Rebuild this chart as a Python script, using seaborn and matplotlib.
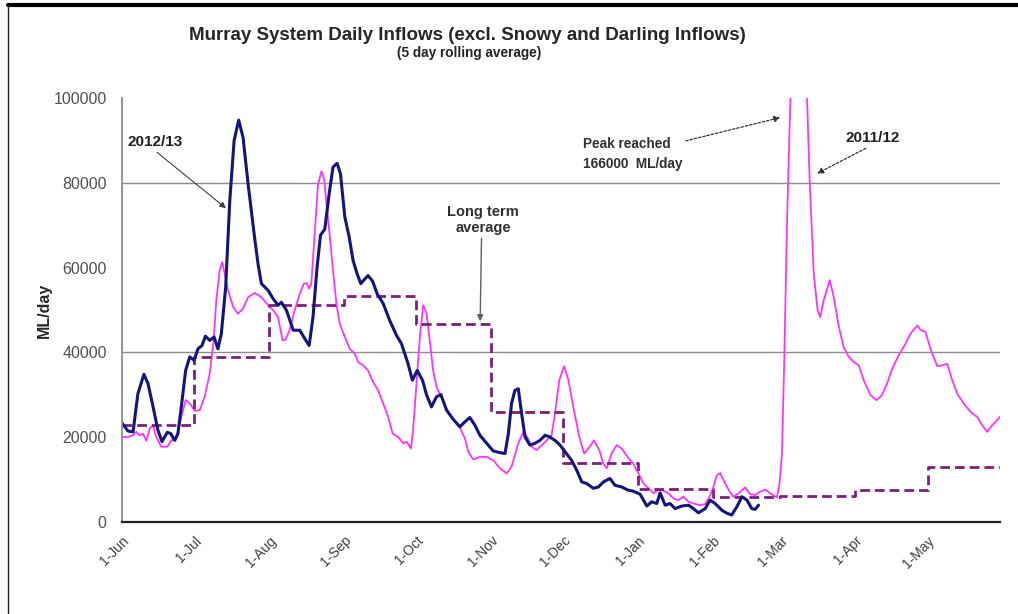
import numpy as np
import pandas as pd
import matplotlib
matplotlib.use('Agg')
import matplotlib.pyplot as plt
import matplotlib.dates as mdates
from matplotlib.lines import Line2D
import seaborn as sns

# Day offsets from 1-Jun, inflows in thousand ML/day
days_1213 = [0, 2.5, 4.6, 6.6, 9.1, 10.8, 12.9, 14.9, 16.6, 18.8, 20.2, 21.9, 23.2, 24.6, 26.4, 28.1,
             29.9, 31.5, 33.2, 34.6, 36.4, 38.2, 39.8, 41.2, 43, 44.7, 46.5, 48.4, 50.2, 52.3, 54.8,
             56.4, 57.8, 60.6, 62.7, 64.7, 66.1, 68.2, 71, 73.7, 75.8, 77.6, 79.2, 80.9, 82.3, 84.1,
             85.9, 87.5, 89.2, 90.6, 92.4, 94.2, 95.8, 97.5, 99, 100.7, 102, 103.9, 105.8, 108.3, 111,
             113.8, 115.9, 118.6, 120.4, 122.4, 124.6, 126.3, 128.3, 130.4, 132.2, 134.6, 137.3, 140.1,
             142.2, 144.2, 146.3, 148.4, 151.2, 153.9, 156.7, 158.8, 160.2, 161.5, 162.9, 164.3, 165.7,
             167.1, 169.1, 171.2, 173.3, 175.4, 177.4, 179.5, 181.6, 183.7, 186.4, 188.5, 190.6, 192.7,
             195.4, 197.5, 199.6, 202.3, 204.4, 207.2, 209.6, 212, 214.8, 217.6, 219.6, 221.7, 223.1,
             225.2, 227.2, 229.3, 232.1, 234.9, 236.9, 239, 241.8, 243.8, 245.9, 248.7, 250.8, 252.8,
             254.9, 257, 259.1, 261.1, 262.5, 263.9]
flow_1213 = [23.3, 21.4, 21.2, 30.2, 34.8, 32.6, 27.1, 21.6, 18.9, 21.1, 20.8, 19.2, 20.8, 27.1, 35.7, 38.9,
             38.1, 40.8, 41.6, 43.8, 42.8, 43.6, 40.8, 44.4, 55.4, 75.8, 90, 94.8, 90.7, 79.7, 67.9,
             60.9, 56.2, 54.6, 52.6, 51.1, 51.8, 49.9, 45.2, 45.2, 43.2, 41.6, 48.3, 60.1, 67.6, 69.1,
             77.4, 83.7, 84.6, 82.1, 71.9, 67.2, 61.7, 58.5, 56.2, 57.3, 58.1, 56.8, 53.8, 51.5, 47.5,
             44, 42, 37.3, 33.4, 35.7, 33.4, 29.9, 27.1, 29.5, 30, 26.3, 24.2, 22.4,
             23.6, 24.6, 22.8, 20.4, 18.5, 16.7, 16.3, 16.1, 20.8, 27.9, 31, 31.4, 25.5,
             20, 18.1, 18.5, 19.2, 20.4, 20, 19.2, 18.1, 16.5, 14.5, 12.2, 9.4, 9,
             7.9, 8.2, 9.4, 10.2, 8.6, 8.2, 7.5, 7.2, 6.5, 3.7, 4.7, 4.3, 6.8,
             3.9, 4.3, 3.1, 3.7, 3.9, 3.1, 2.1, 3.1, 5.1, 4.3, 2.7, 2.0, 1.6,
             3.5, 5.9, 5.1, 3.1, 2.9, 3.9]

days_1112 = [0, 2.5, 4.6, 6, 7.3, 8.7, 10.1, 11.5, 12.9, 14.2, 16.3, 18.8, 20.5, 22.5, 24.6, 26.4, 28.1,
             30.2, 32.2, 34.3, 36.4, 38, 39.1, 40.5, 41.6, 42.6, 44, 46.1, 48.1, 50.2, 52.3, 55, 57.8,
             60.6, 62.7, 64.7, 66.6, 67.8, 69.5, 71.6, 73.7, 75.4, 76.5, 77.6, 78.5, 79.9, 81.3, 82.7,
             83.8, 84.8, 86.2, 87.5, 88.9, 90.3, 92.4, 94.4, 96.5, 97.9, 100, 102, 104.1, 106.2, 108.3,
             110.4, 112.2, 114.5, 116.6, 118, 119.8, 120.7, 122.1, 123.5, 124.9, 126.3, 127.6, 129,
             130.4, 132.2, 134.6, 137.3, 140.1, 142.2, 143.6, 145.6, 148.4, 151.2, 153.9, 156.7, 159.5,
             161.5, 164.3, 166.4, 168, 169.8, 171.9, 174, 176.1, 178.1, 179.5, 181.3, 183.3, 185.1,
             187.1, 189.6, 191.6, 193.4, 195.7, 197.9, 199.6, 201, 203, 205.1, 207.3, 210, 212, 214.3,
             216.2, 218.3, 220.3, 222.4, 224.5, 226.6, 228.6, 230.7, 232.8, 234.9, 236.9, 239.7, 241.8,
             243.6, 245.2, 246.6, 248, 249.4, 251.5, 253.5, 255.6, 258.4, 260.4, 262.5, 264.6, 266.7,
             268.7, 271.5, 272.6, 273.6, 274.6, 275.7, 280.3, 285.1, 286.8, 288.4, 289.5, 290.9, 293.4,
             295.1, 297.2, 299.2, 301.3, 303.4, 305.5, 307.5, 310.3, 312.8, 315.1, 317.2, 319.3, 322,
             324.8, 326.9, 329.7, 331, 333.1, 335.2, 338, 340, 342.1, 344.2, 346.3, 349, 351.8, 354.6,
             356.6, 358.7, 360.8, 362.9, 364.2]
flow_1112 = [20, 20, 20.4, 21.2, 20.4, 20.8, 19.1, 22, 22.8, 20, 17.7, 17.7, 19.2, 19.6, 24.7, 28.7, 27.9,
             26.2, 26.3, 29.5, 35, 42.8, 52.2, 59.3, 61.3, 58.5, 54.6, 50.7, 49.1, 50.3, 53, 54, 53,
             51.1, 49.9, 48.3, 42.8, 43, 45.2, 49.9, 53.8, 56.2, 56.3, 55, 56.2, 67.9, 79.7, 82.7,
             80.9, 75, 67.2, 59.3, 51.5, 46.7, 43.6, 40.8, 39.7, 37.7, 36.9, 35.7, 33, 31, 27.9,
             24.7, 20.8, 20, 18.5, 18.9, 17.3, 21.6, 32.6, 43.6, 51.1, 49.1, 42.8, 35.7,
             31.8, 29.7, 26.5, 24, 22.2, 19.6, 16.5, 14.7, 15.3, 15.3, 14.5, 12.6, 11.4,
             13, 18.5, 21.2, 20, 17.7, 16.9, 18.1, 19.2, 20.4, 25.5, 33.4, 36.7, 33.4,
             27.1, 20, 16.1, 17.3, 19.2, 16.9, 13.7, 12.6, 16.1, 18.1, 17.2, 15, 13.7, 11.2,
             9, 7.9, 6.7, 7.5, 7.3, 6.7, 5.5, 5.1, 5.9, 4.7, 4.3, 3.9, 4.2,
             5.9, 8.2, 11, 11.5, 9.8, 7.5, 5.9, 6.7, 8.1, 6.5, 6.3, 7.1, 7.6,
             6.7, 5.7, 9, 16, 38.9, 70.3, 166, 80.5, 58.5, 49.9, 48.3, 52.2, 57,
             53, 46, 41.2, 38.9, 37.7, 36.9, 33.4, 29.9, 28.7, 29.9, 32.6, 36.1, 39.3,
             42, 44.4, 46.3, 45.3, 44.8, 40.8, 36.7, 36.9, 37.3, 33.4, 30.2, 27.9, 25.9, 24.7,
             22.8, 21.2, 22.8, 24, 24.9]

# long term average, one value per month Jun..May
lta_months = ['Jun', 'Jul', 'Aug', 'Sep', 'Oct', 'Nov', 'Dec', 'Jan', 'Feb', 'Mar', 'Apr', 'May']
lta_flow = [22.8, 38.9, 51.2, 53.2, 46.7, 25.8, 13.9, 7.7, 5.8, 6.0, 7.6, 12.8]

base = pd.Timestamp('2012-06-01')
end = pd.Timestamp('2013-05-31')

df_1213 = pd.DataFrame({'date': base + pd.to_timedelta(days_1213, unit='D'),
                        'flow': np.array(flow_1213) * 1000})
df_1112 = pd.DataFrame({'date': base + pd.to_timedelta(days_1112, unit='D'),
                        'flow': np.array(flow_1112) * 1000})
month_starts = pd.date_range(base, periods=12, freq='MS')
lta_dates = list(month_starts) + [end]
lta_vals = (np.array(lta_flow + [lta_flow[-1]]) * 1000)

sns.set_style('white')
plt.rcParams['font.family'] = ['Liberation Sans', 'DejaVu Sans']

fig = plt.figure(figsize=(10.18, 6.14), dpi=100)
ax = fig.add_axes([0.1198, 0.1503, 0.8625, 0.690])

sns.lineplot(data=df_1112, x='date', y='flow', ax=ax, color='#ff33ff', lw=1.3, sort=False)
ax.plot(lta_dates, lta_vals, drawstyle='steps-post', color='#7b1f7b', lw=2.0,
        linestyle=(0, (3.5, 1.8)))
sns.lineplot(data=df_1213, x='date', y='flow', ax=ax, color='#14147d', lw=2.2, sort=False)

ax.set_xlim(base, end)
ax.set_ylim(0, 100000)
ax.xaxis.set_major_locator(mdates.MonthLocator())
ax.xaxis.set_major_formatter(mdates.DateFormatter('%-d-%b'))
ax.set_yticks(np.arange(0, 100001, 20000))
ax.set_yticks([0, 40000, 80000], minor=True)
ax.tick_params(axis='y', which='major', length=0, labelsize=11.5, labelcolor='#505050', pad=11)
ax.tick_params(axis='y', which='minor', length=6, color='#808080', width=1, direction='out')
ax.tick_params(axis='x', which='major', length=5, color='#808080', labelsize=10,
               labelcolor='#404040', direction='out')
for lab in ax.get_xticklabels():
    lab.set_rotation(45)
    lab.set_ha('right')
    lab.set_rotation_mode('anchor')
ax.grid(False)
for y in [40000, 80000]:
    ax.axhline(y, color='#8c8c8c', lw=1, zorder=0)
ax.set_xlabel('')
ax.set_ylabel('ML/day', fontsize=11.5, fontweight='bold', labelpad=1)
for s in ['top', 'right']:
    ax.spines[s].set_visible(False)
ax.spines['left'].set_color('#8c8c8c')
ax.spines['left'].set_linewidth(1.3)
ax.spines['bottom'].set_color('#202020')
ax.spines['bottom'].set_linewidth(1.6)

fig.text(467 / 1018, 1 - 35 / 614, 'Murray System Daily Inflows (excl. Snowy and Darling Inflows)',
         ha='center', va='center', fontsize=13.5, fontweight='bold')
fig.text(469 / 1018, 1 - 53 / 614, '(5 day rolling average)', ha='center', va='center',
         fontsize=9.8, fontweight='bold')


def fig_xy(px, py):
    return (px / 1018, 1 - py / 614)


def at_day(d):
    return mdates.date2num(base + pd.Timedelta(days=d))


ax.annotate('2012/13', xy=(at_day(43.1), 74000), xycoords='data',
            xytext=fig_xy(128, 142), textcoords='figure fraction', ha='left', va='center',
            fontsize=11, fontweight='bold', color='#202020',
            arrowprops=dict(arrowstyle='-|>', color='#404040', lw=0.8, shrinkA=0, shrinkB=0,
                            mutation_scale=9, relpos=(0.45, 0.0)))
ax.annotate('Long term\naverage', xy=(at_day(148.5), 47300), xycoords='data',
            xytext=fig_xy(483, 220), textcoords='figure fraction', ha='center', va='center',
            fontsize=10.5, fontweight='bold', color='#303030', linespacing=1.15,
            arrowprops=dict(arrowstyle='-|>', color='#606060', lw=1.0, shrinkA=0, shrinkB=0,
                            mutation_scale=9, relpos=(0.48, 0.0)))
ax.annotate('Peak reached\n166000  ML/day', xy=(at_day(272.9), 95400), xycoords='data',
            xytext=fig_xy(583, 154), textcoords='figure fraction', ha='left', va='center',
            fontsize=9.8, fontweight='bold', color='#303030', linespacing=1.5,
            arrowprops=dict(arrowstyle='-|>', color='#303030', lw=0.9, linestyle=(0, (2, 1.5)),
                            shrinkA=0, shrinkB=0, mutation_scale=9, relpos=(0.88, 0.78)))
ax.annotate('2011/12', xy=(at_day(288.2), 82200), xycoords='data',
            xytext=fig_xy(845, 138), textcoords='figure fraction', ha='left', va='center',
            fontsize=11, fontweight='bold', color='#202020',
            arrowprops=dict(arrowstyle='-|>', color='#303030', lw=0.9, linestyle=(0, (2, 1.5)),
                            shrinkA=0, shrinkB=0, mutation_scale=9, relpos=(0.5, 0.0)))

# page frame around the chart
fig.add_artist(Line2D([8 / 1018, 8 / 1018], [0, 1 - 5 / 614], transform=fig.transFigure,
                      color='#202020', lw=1))
fig.add_artist(Line2D([8 / 1018, 1], [1 - 5 / 614, 1 - 5 / 614], transform=fig.transFigure,
                      color='black', lw=3))

fig.savefig('out.png', dpi=100)
